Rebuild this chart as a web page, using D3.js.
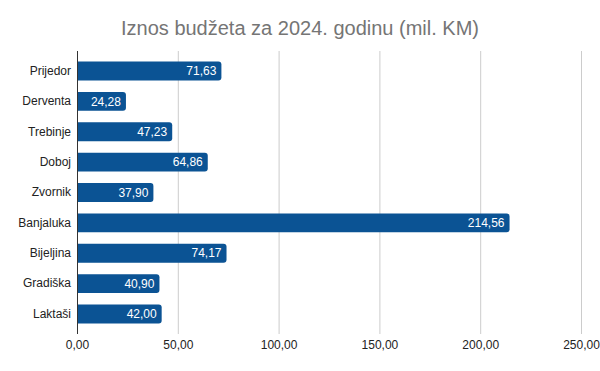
<!DOCTYPE html>
<html>
<head>
<meta charset="utf-8">
<script src="https://cdn.jsdelivr.net/npm/d3@7"></script>
<style>
  body { margin: 0; background: #fff; }
  svg { display: block; font-family: "Liberation Sans", Arial, sans-serif; }
</style>
</head>
<body>
<svg width="600" height="371"></svg>
<script>
// budget per city, mil. KM
const cities = ["Prijedor", "Derventa", "Trebinje", "Doboj", "Zvornik", "Banjaluka", "Bijeljina", "Gradiška", "Laktaši"];
const budgets = [71.63, 24.28, 47.23, 64.86, 37.90, 214.56, 74.17, 40.90, 42.00];
const xTicks = [0, 50, 100, 150, 200, 250];
const title = "Iznos budžeta za 2024. godinu (mil. KM)";
const FONT = "'Liberation Sans', Arial, sans-serif";

let svg = d3.select("svg"),
    width = +svg.attr("width"),
    height = +svg.attr("height");

const fmt = v => v.toFixed(2).replace(".", ",");

let x = d3.scaleLinear().domain([0, 250]).range([77, 581]);
let y = d3.scaleBand().domain(cities).range([51, 334])
    .paddingInner(0.375).paddingOuter(0.346);

svg.append("text")
    .attr("x", 300).attr("y", 35)
    .attr("text-anchor", "middle")
    .attr("font-size", 20)
    .attr("fill", "#757575")
    .text(title);

// gridlines
svg.append("g")
    .selectAll("line")
    .data(xTicks.slice(1))
    .enter().append("line")
    .attr("x1", d => x(d) + 0.5).attr("x2", d => x(d) + 0.5)
    .attr("y1", 51).attr("y2", 334)
    .attr("stroke", "#cccccc");

// x axis labels
let xAxis = d3.axisBottom(x).tickValues(xTicks).tickFormat(fmt).tickSize(0).tickPadding(0);
let gx = svg.append("g").attr("transform", "translate(0,340)").call(xAxis);
gx.select(".domain").remove();
gx.selectAll("text").attr("font-size", 12).attr("fill", "#222").attr("font-family", FONT);

// bars with rounded right end
let bars = svg.append("g")
    .selectAll("path")
    .data(cities.map((c, i) => ({city: c, value: budgets[i]})))
    .enter().append("path")
    .attr("fill", "#0b5394")
    .attr("d", function (d) {
        let x0 = x(0), x1 = x(d.value), y0 = y(d.city), h = y.bandwidth(), r = 3;
        return "M" + x0 + "," + y0 + "H" + (x1 - r) +
            "Q" + x1 + "," + y0 + " " + x1 + "," + (y0 + r) +
            "V" + (y0 + h - r) +
            "Q" + x1 + "," + (y0 + h) + " " + (x1 - r) + "," + (y0 + h) +
            "H" + x0 + "Z";
    });

// value labels
svg.append("g")
    .selectAll("text")
    .data(cities.map((c, i) => ({city: c, value: budgets[i]})))
    .enter().append("text")
    .attr("x", d => x(d.value) - 5)
    .attr("y", d => y(d.city) + y.bandwidth() / 2)
    .attr("dy", "0.35em")
    .attr("text-anchor", "end")
    .attr("font-size", 12)
    .attr("fill", "#fff")
    .text(d => fmt(d.value));

// y axis
let yAxis = d3.axisLeft(y).tickSize(0).tickPadding(6);
let gy = svg.append("g").attr("transform", "translate(77,0)").call(yAxis);
gy.select(".domain").remove();
gy.selectAll("text").attr("font-size", 12).attr("fill", "#222").attr("font-family", FONT);

svg.append("line")
    .attr("x1", 77.5).attr("x2", 77.5)
    .attr("y1", 51).attr("y2", 334)
    .attr("stroke", "#333");
</script>
</body>
</html>
